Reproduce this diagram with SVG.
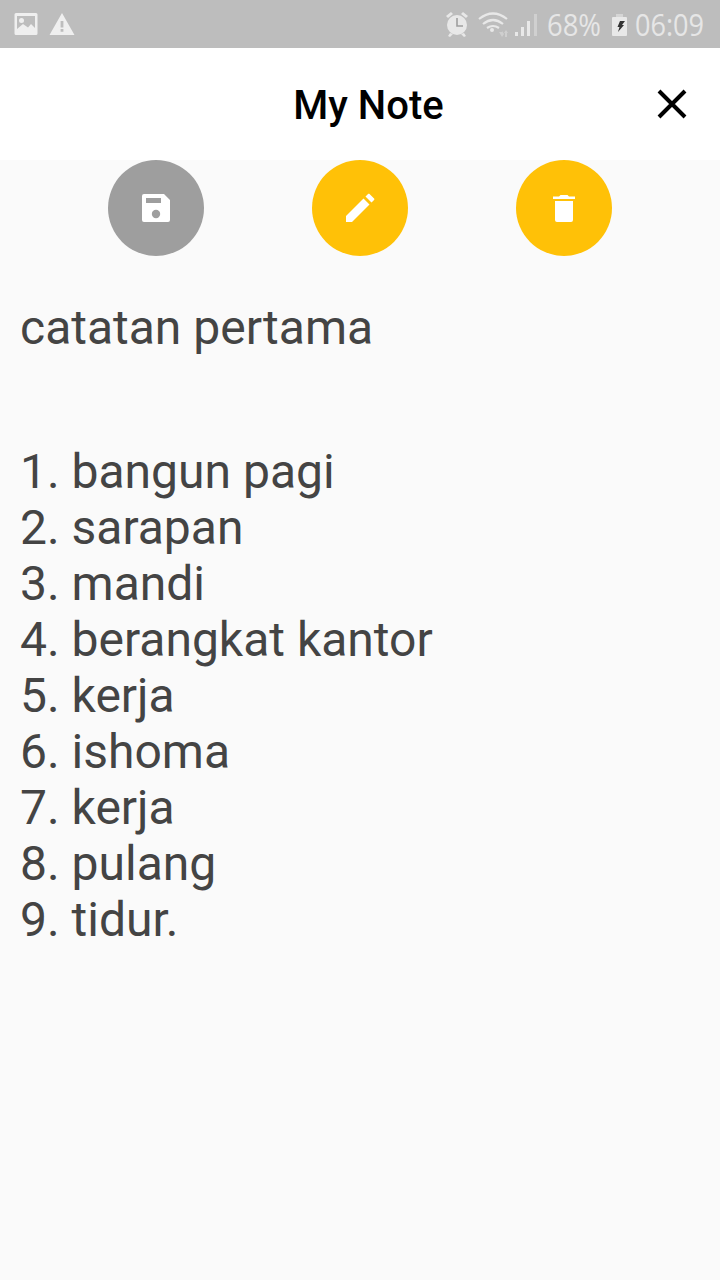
<svg xmlns="http://www.w3.org/2000/svg" width="720" height="1280" viewBox="0 0 720 1280">
<style>
.note{font-family:Roboto,"Liberation Sans",sans-serif;font-size:48px;fill:#444}
.st{font-family:"Open Sans","Liberation Sans",sans-serif;font-size:31px;fill:#e6e6e6;font-weight:400}
.ic{fill:#fff}
</style>
<rect width="720" height="1280" fill="#fafafa"/>
<g id="statusbar">
<rect width="720" height="48" fill="#bdbdbd"/>
<g id="status-left" fill="#efefef">
<path fill-rule="evenodd" d="M16 13h20a1.500 1.500 0 0 1 1.500 1.500v19a1.500 1.500 0 0 1-1.500 1.500h-20a1.500 1.500 0 0 1-1.500-1.500v-19a1.500 1.500 0 0 1 1.500-1.500zM17 16v13l6-5 5 3.500 3-3.500 4 4v-12z"/>
<circle cx="21.500" cy="20.500" r="2.500"/>
<path fill-rule="evenodd" d="M62 13l12.500 22h-25zM60.600 21v6.500h2.800v-6.500zM60.600 29v2.800h2.800v-2.800z"/>
</g>
<g id="status-right" fill="#e8e8e8">
<circle cx="457" cy="25" r="10"/>
<path d="M446 16l5-4 2 2-5 4zM468 16l-5-4-2 2 5 4zM450 33l-2 3 2 1 3-3zM464 33l2 3-2 1-3-3z"/>
<path d="M457 18v8h6" fill="none" stroke="#9e9e9e" stroke-width="1.600"/>
<path d="M479 19q14-11 28 0M483 24q10-8 20 0M487 28q6-4 12 0" fill="none" stroke="#e8e8e8" stroke-width="2.200"/>
<circle cx="492" cy="30" r="2"/>
<path d="M499 32h3v-1l2 3v0l-2 3zM504 33l2-3 2 3h-1v4h-2v-4z" fill="#cfcfcf"/>
<rect x="515" y="32" width="3" height="4"/><rect x="521" y="27" width="3" height="9"/><rect x="527" y="21" width="3" height="15"/><rect x="534" y="14" width="3" height="22" fill="#d0d0d0"/>
<text class="st" x="547" y="36" textLength="54" lengthAdjust="spacingAndGlyphs">68%</text>
<rect x="612" y="17" width="15" height="19" rx="1"/><rect x="616" y="14" width="7" height="3" fill="#d5d5d5"/>
<path d="M620 21h5l-3 4h2l-6 7 1.500-5h-2z" fill="#333"/>
<text class="st" x="635" y="36" textLength="69" lengthAdjust="spacingAndGlyphs">06:09</text>
</g>
</g>
<g id="appbar">
<rect y="48" width="720" height="112" fill="#fff"/>
<text x="368.500" y="119" text-anchor="middle" font-family="Roboto,'Liberation Sans',sans-serif" font-size="40" font-weight="500" fill="#000">My Note</text>
<path id="close" d="M659 91l26 26M685 91l-26 26" stroke="#000" stroke-width="4" fill="none"/>
</g>
<g id="btn-save">
<circle cx="156" cy="208" r="48" fill="#9e9e9e"/>
<path class="ic" fill-rule="evenodd" d="M144 194h20l6 6v20a2 2 0 0 1-2 2h-24a2 2 0 0 1-2-2v-24a2 2 0 0 1 2-2zM146 198v5h15v-5z"/>
<circle cx="156" cy="214" r="4.200" fill="#9e9e9e"/>
</g>
<g id="btn-edit">
<circle cx="360" cy="208" r="48" fill="#ffc107"/>
<path class="ic" d="M346 216l17.500-17.500 6 6-17.500 17.500-6 0zM365.500 196.500l2.800-2.800 1 0 5 5 0 1-2.800 2.800z"/>
</g>
<g id="btn-delete">
<circle cx="564" cy="208" r="48" fill="#ffc107"/>
<path class="ic" d="M553 199h22v-2.500h-6l-1.500-1.500h-7l-1.500 1.500h-6zM555 201h18v19a2 2 0 0 1-2 2h-14a2 2 0 0 1-2-2z"/>
</g>
<g id="note-text">
<text class="note" x="20" y="344">catatan pertama</text>
<text class="note" x="20" y="488">1. bangun pagi</text>
<text class="note" x="20" y="544">2. sarapan</text>
<text class="note" x="20" y="600">3. mandi</text>
<text class="note" x="20" y="656">4. berangkat kantor</text>
<text class="note" x="20" y="712">5. kerja</text>
<text class="note" x="20" y="768">6. ishoma</text>
<text class="note" x="20" y="824">7. kerja</text>
<text class="note" x="20" y="880">8. pulang</text>
<text class="note" x="20" y="936">9. tidur.</text>
</g>
</svg>
